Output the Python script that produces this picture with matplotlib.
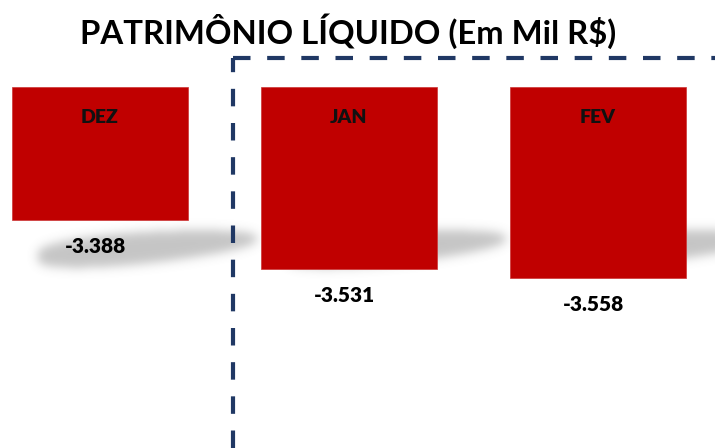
import numpy as np
import matplotlib
matplotlib.use("Agg")
import matplotlib.pyplot as plt

meses = ["DEZ", "JAN", "FEV"]
valores = [-3388, -3531, -3558]
rotulos = ["-3.388", "-3.531", "-3.558"]

base = -3000
vermelho = "#C00000"
azul = "#203864"
fonte = "Lato"


def suaviza(img, sigma):
    n = int(sigma * 3)
    k = np.exp(-0.5 * (np.arange(-n, n + 1) / sigma) ** 2)
    k = k / k.sum()
    img = np.apply_along_axis(lambda v: np.convolve(v, k, mode="same"), 1, img)
    img = np.apply_along_axis(lambda v: np.convolve(v, k, mode="same"), 0, img)
    return img


def sombra():
    # soft lens-shaped floor shadow, lower on the left, higher on the right
    h, w = 80, 260
    img = np.zeros((h, w))
    rows = np.arange(h)
    for c in range(20, 240):
        t = (c - 20) / 220.0
        yc = 46 - 18 * t
        meia = 16 * np.sin(np.pi * t ** 0.75) ** 0.4
        img[:, c] = (np.abs(rows - yc) <= meia).astype(float)
    img = suaviza(img, 5)
    img = img / img.max()
    rgba = np.zeros((h, w, 4))
    rgba[..., :3] = 0.5
    rgba[..., 3] = img * 0.45
    return rgba


def grafico():
    fig = plt.figure(figsize=(7.15, 4.48), dpi=100)
    ax = fig.add_axes([0, 0, 1, 1])
    x = np.arange(len(meses))
    larg = 0.707

    img = sombra()
    for xi in x:
        ax.imshow(img, extent=(xi - 0.333, xi + 0.711, -3592, -3359),
                  aspect="auto", zorder=1, interpolation="bilinear")

    alturas = [v - base for v in valores]
    barras = ax.bar(x, alturas, bottom=base, width=larg, color=vermelho,
                    edgecolor="#CC3333", linewidth=0.5, zorder=2)

    for b, m, v, r in zip(barras, meses, valores, rotulos):
        cx = b.get_x() + b.get_width() / 2
        ax.annotate(m, (cx, base), xytext=(0, -22), textcoords="offset points",
                    ha="center", va="center", fontsize=14, fontweight="heavy",
                    family=fonte, color="#111111", zorder=3)
        ax.annotate(r, (cx, v), xytext=(-3, -19), textcoords="offset points",
                    ha="center", va="center", fontsize=15, fontweight="heavy",
                    family=fonte, color="black", zorder=3)

    ax.set_xlim(-0.4016, 2.470)
    ax.set_ylim(-4053, -2746)
    ax.axis("off")

    # dashed divider between december and the current year
    ax.plot([0.326, 0.326], [0.0, 0.8705], transform=ax.transAxes, color=azul,
            lw=3, ls=(0, (4.2, 4)), zorder=4, clip_on=False)
    ax.plot([0.326, 1.0], [0.8705, 0.8705], transform=ax.transAxes, color=azul,
            lw=3, ls=(0, (4.2, 4)), zorder=4, clip_on=False)

    fig.text(0.487, 1 - 31 / 448, "PATRIMÔNIO LÍQUIDO (Em Mil R$)",
             ha="center", va="center", fontsize=23.7, fontweight="bold",
             family=fonte, color="black")

    fig.savefig("out.png", dpi=100)


def main():
    grafico()


if __name__ == "__main__":
    main()
